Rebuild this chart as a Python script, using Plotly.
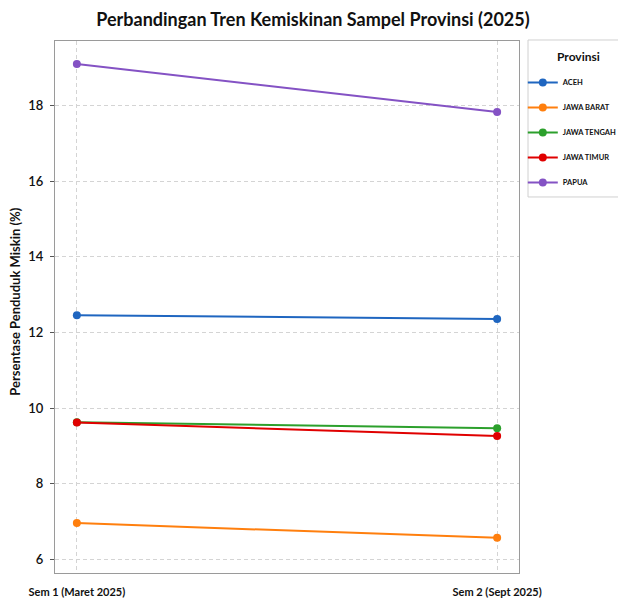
import plotly.graph_objects as go

# Data
PERIODS = ["Sem 1 (Maret 2025)", "Sem 2 (Sept 2025)"]
PROVINCES = ["ACEH", "JAWA BARAT", "JAWA TENGAH", "JAWA TIMUR", "PAPUA"]
ACEH = [12.46, 12.36]
JAWA_BARAT = [6.96, 6.57]
JAWA_TENGAH = [9.63, 9.47]
JAWA_TIMUR = [9.62, 9.26]
PAPUA = [19.10, 17.83]
Y_TICKS = [6, 8, 10, 12, 14, 16, 18]

SERIES = [ACEH, JAWA_BARAT, JAWA_TENGAH, JAWA_TIMUR, PAPUA]
COLORS = ["#1f66c0", "#ff7f0e", "#2ca02c", "#e00000", "#8452c4"]

FONT = "Lato"
TEXT = "#111111"
GRID = "#d4d4d4"

fig = go.Figure()

for name, vals, color in zip(PROVINCES, SERIES, COLORS):
    fig.add_trace(go.Scatter(
        x=PERIODS, y=vals, name=name, mode="lines+markers",
        legendgroup=name,
        line=dict(color=color, width=2),
        marker=dict(color=color, size=8),
    ))

# legend frame and title drawn by hand so the spacing matches
fig.add_shape(type="rect", xref="paper", yref="paper",
              x0=1.0194, x1=1.2263, y0=0.7068, y1=1.0019,
              line=dict(color="#d0d0d0", width=1), fillcolor="white", layer="below")
fig.add_annotation(text="<b>Provinsi</b>", xref="paper", yref="paper",
                   x=1.129, y=0.970, showarrow=False,
                   xanchor="center", yanchor="middle",
                   font=dict(size=12, color=TEXT, family=FONT))
# y axis title
fig.add_annotation(text="<b>Persentase Penduduk Miskin (%)</b>", xref="paper", yref="paper",
                   x=0, xshift=-40, y=0.51, textangle=-90, showarrow=False,
                   xanchor="center", yanchor="middle",
                   font=dict(size=13, color=TEXT, family=FONT))

# page body adds an 8px margin, so the figure is sized 8px smaller
fig.update_layout(
    width=618, height=597,
    paper_bgcolor="white",
    plot_bgcolor="white",
    font=dict(family=FONT, color=TEXT),
    title=dict(
        text="<b>Perbandingan Tren Kemiskinan Sampel Provinsi (2025)</b>",
        x=0.4935, xanchor="center", xref="container", y=0.98, yanchor="middle",
        font=dict(size=18, color=TEXT, family=FONT),
    ),
    margin=dict(l=47, r=107, t=33, b=32),
    xaxis=dict(
        type="category",
        range=[-0.052, 1.052],
        automargin=False,
        showgrid=True, gridcolor=GRID, griddash="4px,3px", gridwidth=1,
        showline=True, linecolor="#9a9a9a", linewidth=1, mirror=True,
        ticks="", tickfont=dict(size=11, color=TEXT, weight="bold"),
        ticklabelstandoff=9,
        zeroline=False,
    ),
    yaxis=dict(
        range=[5.64, 19.71],
        tickvals=Y_TICKS,
        automargin=False,
        showgrid=True, gridcolor=GRID, griddash="4px,3px", gridwidth=1,
        showline=True, linecolor="#9a9a9a", linewidth=1, mirror=True,
        ticks="outside", ticklen=4, tickcolor="#555555",
        tickfont=dict(size=13, color=TEXT, weight=600),
        ticklabelstandoff=4,
        zeroline=False,
    ),
    legend=dict(
        xref="container", yref="container",
        x=0.833, xanchor="left", y=0.8995, yanchor="top",
        bgcolor="rgba(0,0,0,0)", borderwidth=0,
        font=dict(size=7.5, color=TEXT, family=FONT, weight="bold"),
        itemsizing="trace",
        tracegroupgap=6,
    ),
    showlegend=True,
)

fig.write_html("out.html")
